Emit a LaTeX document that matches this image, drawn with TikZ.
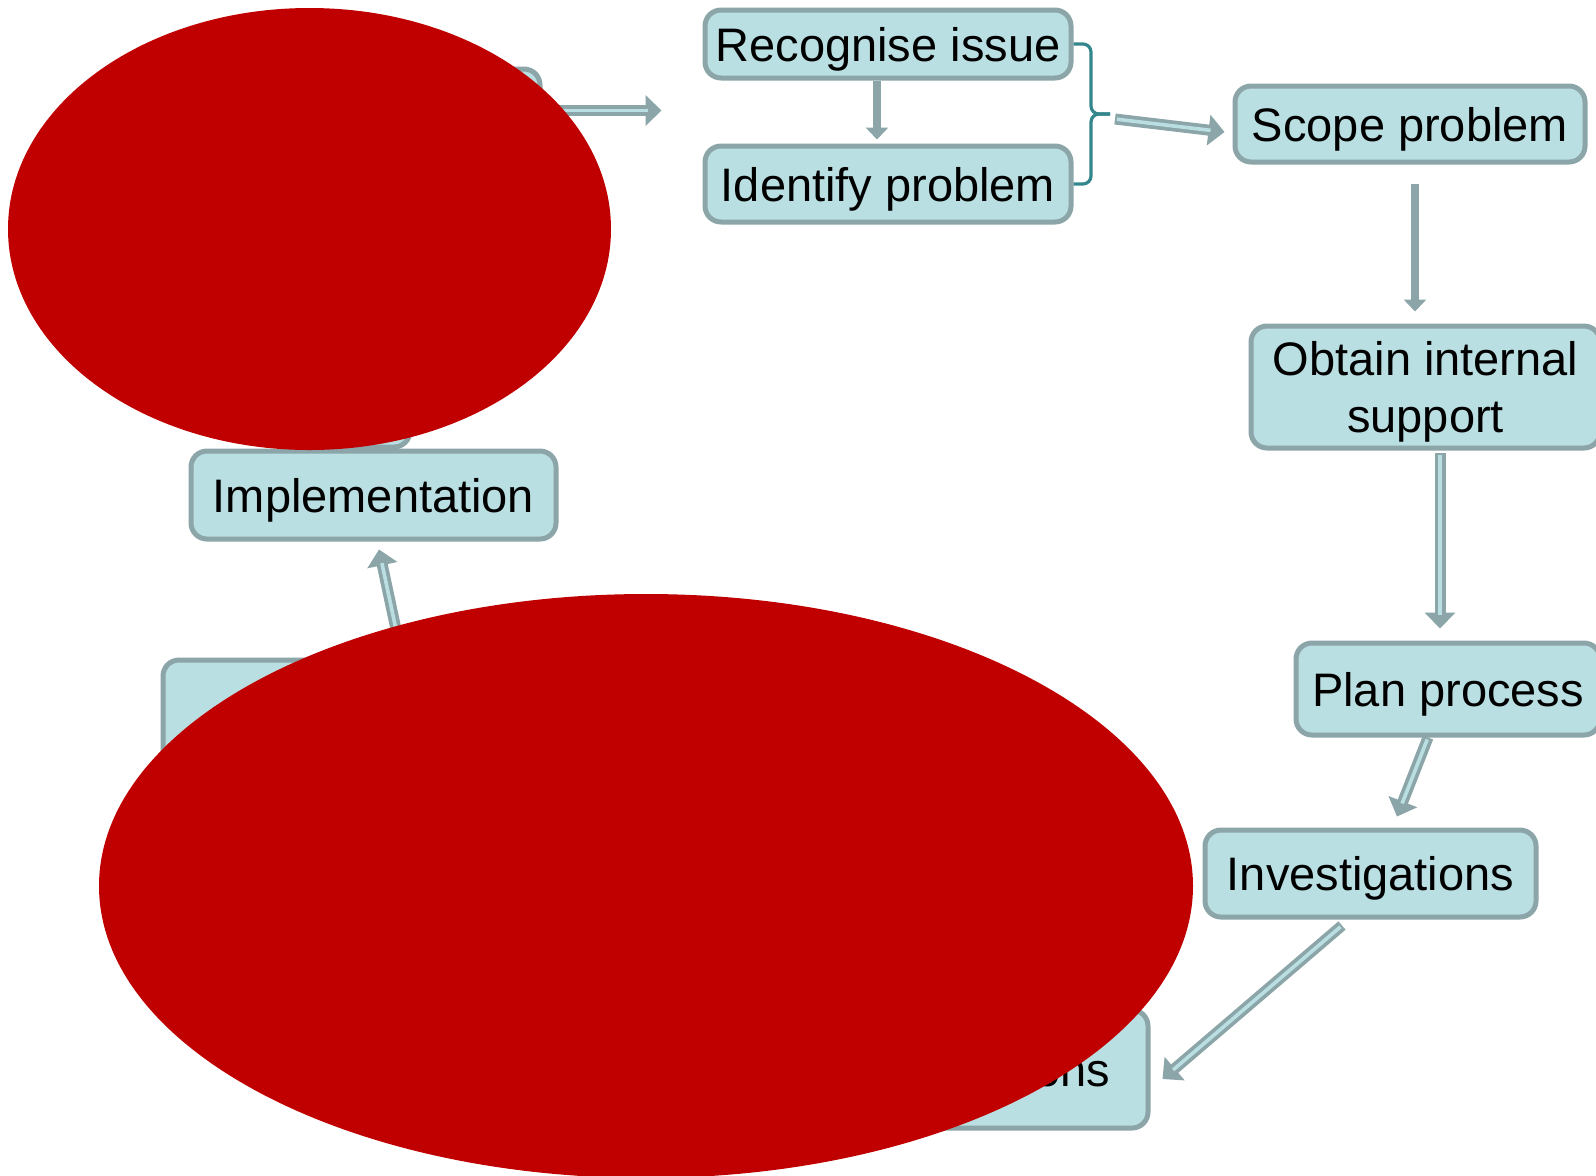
\documentclass[tikz,border=0pt]{standalone}
\usepackage{fontspec}
\setmainfont{Liberation Sans}
\usetikzlibrary{arrows.meta,calc}
\definecolor{boxfill}{RGB}{186,223,226}
\definecolor{boxline}{RGB}{139,165,168}
\definecolor{bracecol}{RGB}{52,134,141}
\definecolor{blotred}{RGB}{192,0,0}
% double-line connector: grey body with a light core
\newcommand\dblconn[2]{\draw[dblouter] #1 -- #2; \draw[dblinner] #1 -- #2;}
\begin{document}
\begin{tikzpicture}[x=0.5pt,y=-0.5pt,
  box/.style={draw=boxline, fill=boxfill, line width=2.5pt, rounded corners=8pt,
    inner sep=0pt, align=center, text depth=0pt, font=\fontsize{23.5pt}{28.5pt}\selectfont},
  solidarrow/.style={draw=boxline, line width=4pt, -{Triangle[width=11pt,length=6pt]}},
  dblouter/.style={draw=boxline, line width=5.5pt, -{Triangle[width=15pt,length=8pt]}},
  dblinner/.style={draw=boxfill, line width=1.8pt, shorten >=7pt, shorten <=1pt},
  brace/.style={draw=bracecol, line width=1.6pt, rounded corners=4pt}]
\clip (0,0) rectangle (1596,1175);

% process steps
\node[box, minimum width=170pt, minimum height=41.5pt] (start) at (370,110.5) {};
\node[box, minimum width=183pt, minimum height=34pt] (recog) at (888,44) {Recognise issue};
\node[box, minimum width=183pt, minimum height=38pt] (ident) at (888,184) {Identify problem};
\node[box, minimum width=175pt, minimum height=38pt] (scope) at (1410,124) {Scope problem};
\node[box, minimum width=174.5pt, minimum height=61pt] (obtain) at (1425.5,387) {Obtain internal\\support};
\node[box, minimum width=152pt, minimum height=46pt] (plan) at (1448,689) {Plan process};
\node[box, minimum width=165.5pt, minimum height=43.5pt] (invest) at (1370.5,873.5) {Investigations};
\node[box, minimum width=234pt, minimum height=59pt] (recomm) at (914,1069) {Recommendations};
\node[box, minimum width=218.5pt, minimum height=85pt] (decide) at (381.5,745) {};
\node[box, minimum width=40pt, minimum height=73.5pt] (review) at (370,373.5) {};
\node[box, minimum width=182.5pt, minimum height=44pt] (impl) at (373.5,495) {Implementation};

% bracket joining the first two steps
\coordinate (bmid) at (1091,114);
\coordinate (btip) at (1110,114);
\draw[brace] (recog.east) -| (bmid) -- (btip);
\draw[brace] (ident.east) -| (bmid) -- (btip);

% connectors
\draw[solidarrow] ($(recog.south)+(-11,0)$) -- ($(ident.north)+(-11,-4)$);
\draw[solidarrow] ($(scope.south)+(5,19)$) -- ($(obtain.north)+(-10.5,-12)$);
\dblconn{(start.east)}{($(start.east -| recog.west)+(-41,0)$)}
\dblconn{($(btip)+(5,5)$)}{($(scope.west)+(-8,8)$)}
\dblconn{($(obtain.south)+(14.5,2)$)}{($(plan.north)+(-8,-12)$)}
\dblconn{($(plan.south)+(-20,0)$)}{($(invest.north)+(26.5,-11)$)}
\dblconn{($(invest.south)+(-28.5,6)$)}{($(recomm.east)+(12,10)$)}
\dblconn{($(decide.north)+(20.5,0)$)}{($(impl.south)+(5.5,8)$)}

% red blots laid over the chart
\fill[blotred] (309.5,229) ellipse [x radius=150.75pt, y radius=110.5pt];
\fill[blotred] (646,886) ellipse [x radius=273.5pt, y radius=146pt];
\end{tikzpicture}
\end{document}
